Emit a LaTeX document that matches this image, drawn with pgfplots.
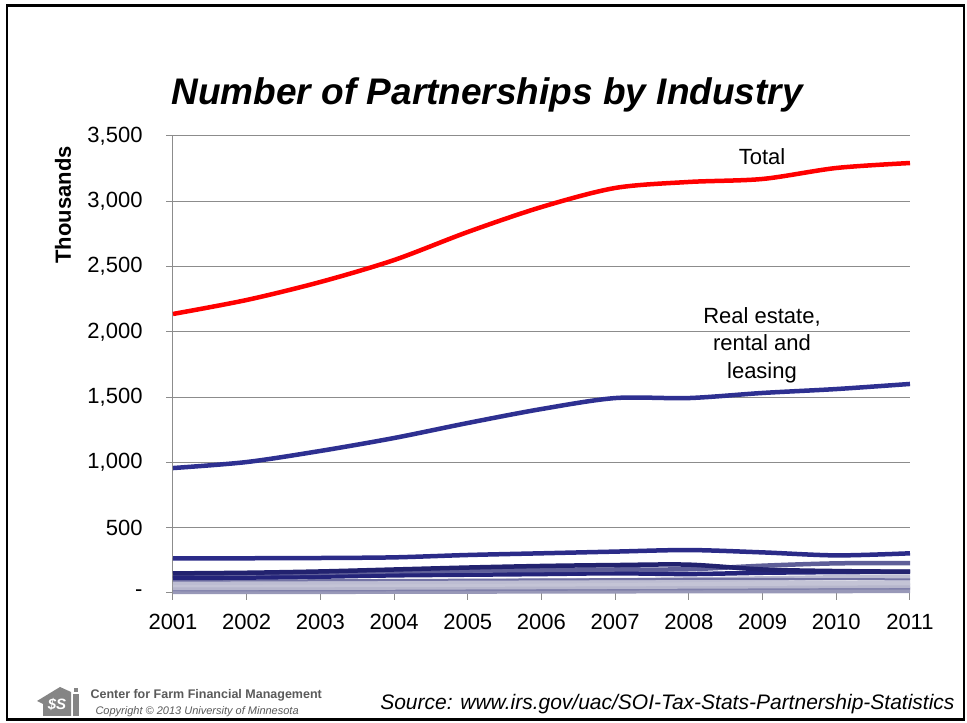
\documentclass[border=0pt]{standalone}
\usepackage{fontspec}
\setmainfont{Liberation Sans}
\usepackage{pgfplots}
\pgfplotsset{compat=1.18}

\definecolor{totalred}{HTML}{FF0000}
\definecolor{realestate}{HTML}{2E3091}
\definecolor{navyA}{HTML}{2B2B88}
\definecolor{navyB}{HTML}{22226F}
\definecolor{navyC}{HTML}{24247A}
\definecolor{slate}{HTML}{5E5E98}
\definecolor{lavA}{HTML}{C4C4D6}
\definecolor{lavB}{HTML}{B6B6CC}
\definecolor{lavC}{HTML}{BDBDD2}
\definecolor{lavD}{HTML}{9898B8}
\definecolor{lavE}{HTML}{8080AA}
\definecolor{lavF}{HTML}{7474A4}
\definecolor{gridgray}{HTML}{8C8C8C}
\definecolor{logogray}{HTML}{858585}
\definecolor{footgray}{HTML}{5A5A5A}

\newcommand{\fs}[1]{\fontsize{#1}{1.2\dimexpr#1pt\relax}\selectfont}

\begin{document}
\begin{tikzpicture}[x=1pt,y=1pt]
  % page background and frame
  \fill[white] (0,0) rectangle (967,723);
  \draw[black, line width=2.5pt] (7,3.5) rectangle (964,717.5);

  \begin{axis}[
    at={(173pt,130pt)}, anchor=south west,
    scale only axis, width=737pt, height=457pt,
    xmin=2001, xmax=2011, ymin=0, ymax=3500,
    axis lines*=left,
    axis line style={gridgray, line width=1pt},
    tick style={gridgray, line width=1pt},
    tick align=outside, major tick length=7pt,
    xtick={2001,2002,...,2011},
    xticklabels={2001,2002,2003,2004,2005,2006,2007,2008,2009,2010,2011},
    ytick={0,500,...,3500},
    yticklabels={-,500,{1,000},{1,500},{2,000},{2,500},{3,000},{3,500}},
    ymajorgrids,
    grid style={gridgray, line width=1pt},
    ticklabel style={font=\fs{22}},
    yticklabel style={xshift=-20pt},
    xticklabel style={yshift=-11pt},
    clip=false,
  ]
    % smaller industries, light to dark
    \addplot[lavD, line width=5pt, smooth, tension=0.5] coordinates {
      (2001,10) (2002,10) (2003,11) (2004,12) (2005,13) (2006,14)
      (2007,15) (2008,16) (2009,16) (2010,17) (2011,18)};
    \addplot[lavE, line width=3pt, smooth, tension=0.5] coordinates {
      (2001,25) (2002,24) (2003,24) (2004,25) (2005,26) (2006,28)
      (2007,30) (2008,32) (2009,35) (2010,37) (2011,38)};
    \addplot[lavB, line width=5pt, smooth, tension=0.5] coordinates {
      (2001,42) (2002,42) (2003,43) (2004,44) (2005,46) (2006,48)
      (2007,50) (2008,52) (2009,54) (2010,56) (2011,58)};
    \addplot[lavA, line width=5pt, smooth, tension=0.5] coordinates {
      (2001,62) (2002,62) (2003,63) (2004,64) (2005,66) (2006,68)
      (2007,70) (2008,72) (2009,74) (2010,76) (2011,78)};
    \addplot[lavC, line width=5pt, smooth, tension=0.5] coordinates {
      (2001,82) (2002,82) (2003,84) (2004,86) (2005,88) (2006,92)
      (2007,96) (2008,102) (2009,110) (2010,118) (2011,122)};
    \addplot[lavF, line width=2pt, smooth, tension=0.5] coordinates {
      (2001,95) (2002,96) (2003,98) (2004,100) (2005,102) (2006,104)
      (2007,106) (2008,108) (2009,108) (2010,106) (2011,105)};
    \addplot[navyC, line width=4.5pt, smooth, tension=0.5] coordinates {
      (2001,115) (2002,118) (2003,125) (2004,135) (2005,140) (2006,145)
      (2007,151) (2008,145) (2009,155) (2010,160) (2011,162)};
    \addplot[slate, line width=4.5pt, smooth, tension=0.5] coordinates {
      (2001,148) (2002,150) (2003,155) (2004,166) (2005,172) (2006,176)
      (2007,180) (2008,182) (2009,209) (2010,227) (2011,229)};
    \addplot[navyB, line width=4.5pt, smooth, tension=0.5] coordinates {
      (2001,150) (2002,155) (2003,165) (2004,180) (2005,195) (2006,207)
      (2007,214) (2008,217) (2009,180) (2010,168) (2011,163)};
    \addplot[navyA, line width=4.5pt, smooth, tension=0.5] coordinates {
      (2001,266) (2002,266) (2003,268) (2004,273) (2005,291) (2006,304)
      (2007,317) (2008,329) (2009,311) (2010,288) (2011,304)};
    % real estate, rental and leasing
    \addplot[realestate, line width=4.5pt, smooth, tension=0.5] coordinates {
      (2001,957) (2002,1003) (2003,1088) (2004,1187) (2005,1302) (2006,1409)
      (2007,1493) (2008,1493) (2009,1532) (2010,1562) (2011,1601)};
    % total
    \addplot[totalred, line width=4.5pt, smooth, tension=0.5] coordinates {
      (2001,2137) (2002,2244) (2003,2382) (2004,2550) (2005,2765) (2006,2956)
      (2007,3102) (2008,3148) (2009,3171) (2010,3255) (2011,3293)};
  \end{axis}

  % title and labels
  \node[anchor=west, font=\fs{37}\bfseries\itshape] at (168,628) {Number of Partnerships by Industry};
  \node[rotate=90, font=\fs{22}\bfseries] at (63,518) {Thousands};
  \node[font=\fs{22}] at (762,566) {Total};
  \node[font=\fs{22}, align=center] at (762,378)
    {Real estate,\\[1pt]rental and\\[1pt]leasing};

  % footer: source
  \node[anchor=east, font=\fs{21}\itshape] at (958,19) {Source: www.irs.gov/uac/SOI-Tax-Stats-Partnership-Statistics};

  % footer: logo (house with dollar sign)
  \fill[logogray] (37,22) -- (60,36) -- (71,31) -- (71,7) -- (43,7) -- (43,19) -- cycle;
  \fill[logogray] (73,7) -- (73,29) -- (79,29) -- (79,7) -- cycle;
  \fill[logogray] (74,31) rectangle (78,35);
  \node[white, font=\fs{15}\bfseries\itshape, inner sep=0pt] at (57,19) {\$S};
  \node[anchor=west, font=\fs{12.5}\bfseries, text=footgray] at (87,28) {Center for Farm Financial Management};
  \node[anchor=west, font=\fs{11}\itshape, text=footgray] at (92,11) {Copyright \textcopyright\ 2013 University of Minnesota};
\end{tikzpicture}
\end{document}
